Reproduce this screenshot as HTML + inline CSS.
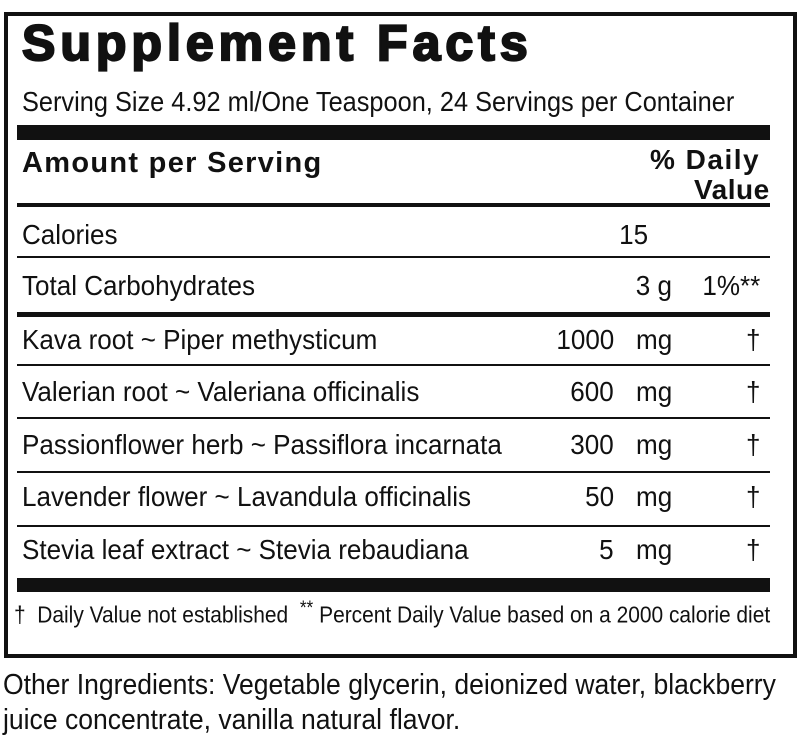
<!DOCTYPE html>
<html><head><meta charset="utf-8"><style>
body{margin:0;background:#fff;width:800px;height:750px;position:relative;overflow:hidden;font-family:"Liberation Sans",Arial,sans-serif;color:#111}
.a{position:absolute;white-space:nowrap;line-height:1}
.c{transform:scaleX(0.93);transform-origin:left center;font-size:28px}
.r{transform:scaleX(0.93);transform-origin:right center;font-size:28px;text-align:right}
.ln{position:absolute;left:17px;width:753px;background:#111}
</style></head><body>
<div style="position:absolute;left:4px;top:12px;width:785px;height:638px;border:4px solid #111"></div>
<div class="a" style="left:22px;top:18px;font-size:50px;font-weight:bold;letter-spacing:5px;-webkit-text-stroke:2.2px #111">Supplement Facts</div>
<div class="a c" style="left:22px;top:88px;transform:scaleX(0.905)">Serving Size 4.92 ml/One Teaspoon, 24 Servings per Container</div>
<div class="ln" style="top:125px;height:15px"></div>
<div class="a" style="left:22px;top:149px;font-size:29px;font-weight:bold;letter-spacing:1.3px">Amount per Serving</div>
<div class="a" style="left:650px;top:146px;font-size:28px;font-weight:bold;letter-spacing:1.5px">% Daily</div>
<div class="a" style="left:694px;top:176px;font-size:28px;font-weight:bold;letter-spacing:0.5px">Value</div>
<div class="ln" style="top:203px;height:4px"></div>
<div class="a c" style="left:22px;top:221px">Calories</div>
<div class="a r" style="right:152px;top:221px">15</div>
<div class="ln" style="top:256px;height:2px"></div>
<div class="a c" style="left:22px;top:272px">Total Carbohydrates</div>
<div class="a r" style="right:128px;top:272px">3 g</div>
<div class="a r" style="right:40px;top:272px">1%**</div>
<div class="ln" style="top:312px;height:5px"></div>
<div class="a c" style="left:22px;top:326px">Kava root ~ Piper methysticum</div>
<div class="a r" style="right:186px;top:326px">1000</div>
<div class="a c" style="left:636px;top:326px">mg</div>
<div class="a c" style="left:746px;top:326px">†</div>
<div class="ln" style="top:364px;height:2px"></div>
<div class="a c" style="left:22px;top:378px">Valerian root ~ Valeriana officinalis</div>
<div class="a r" style="right:186px;top:378px">600</div>
<div class="a c" style="left:636px;top:378px">mg</div>
<div class="a c" style="left:746px;top:378px">†</div>
<div class="ln" style="top:417px;height:2px"></div>
<div class="a c" style="left:22px;top:431px">Passionflower herb ~ Passiflora incarnata</div>
<div class="a r" style="right:186px;top:431px">300</div>
<div class="a c" style="left:636px;top:431px">mg</div>
<div class="a c" style="left:746px;top:431px">†</div>
<div class="ln" style="top:471px;height:2px"></div>
<div class="a c" style="left:22px;top:483px">Lavender flower ~ Lavandula officinalis</div>
<div class="a r" style="right:186px;top:483px">50</div>
<div class="a c" style="left:636px;top:483px">mg</div>
<div class="a c" style="left:746px;top:483px">†</div>
<div class="ln" style="top:525px;height:2px"></div>
<div class="a c" style="left:22px;top:536px">Stevia leaf extract ~ Stevia rebaudiana</div>
<div class="a r" style="right:186px;top:536px">5</div>
<div class="a c" style="left:636px;top:536px">mg</div>
<div class="a c" style="left:746px;top:536px">†</div>
<div class="ln" style="top:578px;height:14px"></div>
<div class="a c" style="left:14px;top:599px;font-size:23px;transform:scaleX(0.91)">†&nbsp; Daily Value not established &nbsp;<sup style="font-size:19px">**</sup> Percent Daily Value based on a 2000 calorie diet</div>
<div class="a c" style="left:3px;top:671px;font-size:29px;transform:scaleX(0.915)">Other Ingredients: Vegetable glycerin, deionized water, blackberry</div>
<div class="a c" style="left:3px;top:706px;font-size:29px;transform:scaleX(0.915)">juice concentrate, vanilla natural flavor.</div>
</body></html>
